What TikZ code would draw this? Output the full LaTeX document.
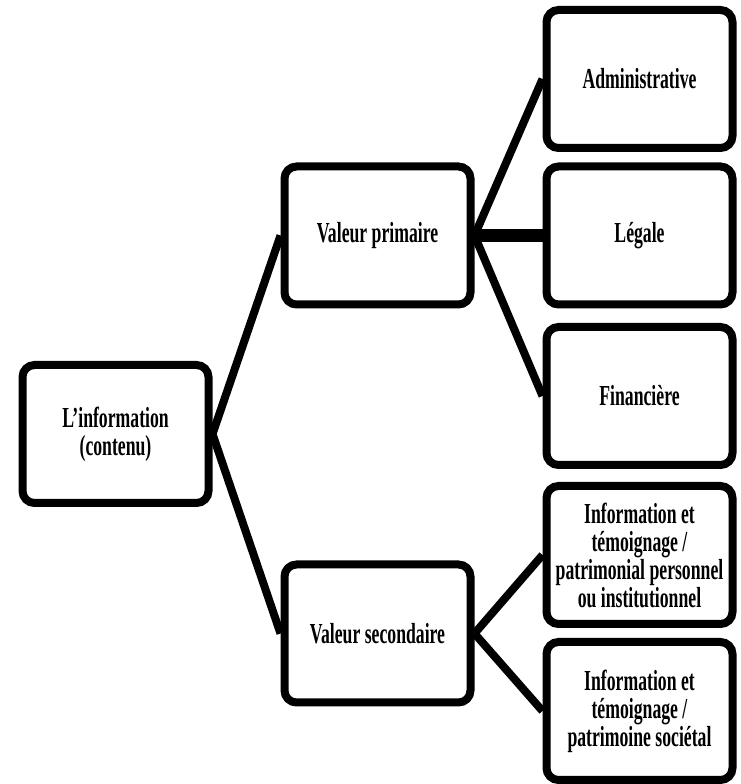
\documentclass[tikz,border=0pt]{standalone}
\usepackage{fontspec}
\setmainfont{Liberation Serif}[FakeStretch=0.61]
\usetikzlibrary{positioning}
\tikzset{%
boite/.style={rectangle, rounded corners=12pt, draw=black, line width=8pt, fill=white, minimum width=186pt, minimum height=138pt, align=center, inner sep=2pt, font=\fontsize{29}{28}\selectfont\bfseries},
lien/.style={draw=black, line width=8pt},
gros/.style={line width=13pt}
}

\begin{document}
\begin{tikzpicture}[x=1pt, y=1pt, node distance=262pt]
		\useasboundingbox (0,0) rectangle (740,784);
		\node[boite] (info) at (115.5,350) {L'information\\(contenu)};
		\node[boite] (prim) [right of=info, yshift=198.5pt] {Valeur primaire};
		\node[boite] (sec) [right of=info, yshift=-199.5pt] {Valeur secondaire};
		\node[boite] (admin) [right of=prim, yshift=156.5pt] {Administrative};
		\node[boite] (legale) [right of=prim] {Légale};
		\node[boite] (fin) [right of=prim, yshift=-160.5pt] {Financière};
		\node[boite] (perso) [right of=sec, yshift=78.5pt] {Information et\\témoignage /\\patrimonial personnel\\ou institutionnel};
		\node[boite] (soc) [right of=sec, yshift=-77.5pt] {Information et\\témoignage /\\patrimoine sociétal};
		
		\path[lien] (info.east) -- (prim.west);
		\path[lien] (info.east) -- (sec.west);
		\path[lien] (prim.east) -- (admin.west);
		\path[lien, gros] (prim.east) -- (legale.west);
		\path[lien] (prim.east) -- (fin.west);
		\path[lien] (sec.east) -- (perso.west);
		\path[lien] (sec.east) -- (soc.west);
	\end{tikzpicture}
\end{document}
